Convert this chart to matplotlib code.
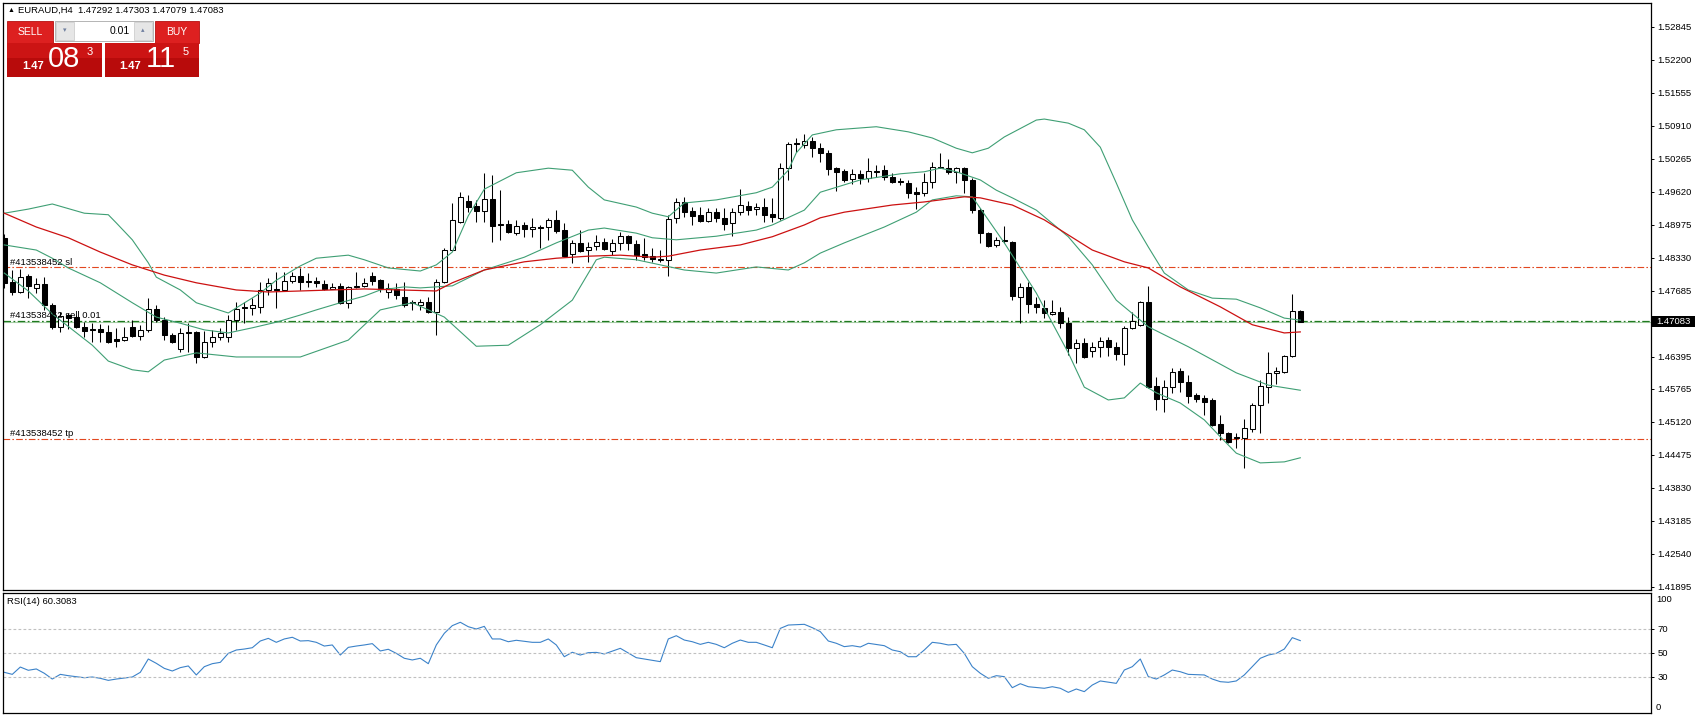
import matplotlib
matplotlib.use("Agg")
import matplotlib.pyplot as plt
from matplotlib.patches import Rectangle
import numpy as np

plt.rcParams['font.family'] = ['Liberation Sans', 'DejaVu Sans']

W, H = 1695, 715

# --- EURAUD H4 candles ---
opens = [1.4872, 1.4786, 1.4766, 1.4797, 1.4774, 1.4782, 1.4741, 1.4698, 1.4721, 1.4717,
         1.4698, 1.4694, 1.4693, 1.4688, 1.4674, 1.4672, 1.4698, 1.4680, 1.4692, 1.4733,
         1.4711, 1.4682, 1.4655, 1.4688, 1.4688, 1.4639, 1.4668, 1.4678, 1.4678, 1.4711,
         1.4736, 1.4735, 1.4737, 1.4770, 1.4771, 1.4770, 1.4788, 1.4797, 1.4787, 1.4788,
         1.4782, 1.4772, 1.4778, 1.4745, 1.4775, 1.4778, 1.4797, 1.4789, 1.4766, 1.4772,
         1.4756, 1.4746, 1.4741, 1.4747, 1.4727, 1.4786, 1.4848, 1.4903, 1.4944, 1.4934,
         1.4924, 1.4948, 1.4898, 1.4899, 1.4881, 1.4897, 1.4889, 1.4894, 1.4893, 1.4907,
         1.4887, 1.4840, 1.4862, 1.4848, 1.4856, 1.4864, 1.4846, 1.4862, 1.4875, 1.4860,
         1.4840, 1.4836, 1.4829, 1.4829, 1.4911, 1.4942, 1.4924, 1.4916, 1.4905, 1.4922,
         1.4911, 1.4901, 1.4922, 1.4934, 1.4928, 1.4932, 1.4918, 1.4911, 1.5008, 1.5058,
         1.5053, 1.5061, 1.5047, 1.5038, 1.5008, 1.5002, 1.4987, 1.4997, 1.4989, 1.5003,
         1.5004, 1.4991, 1.4982, 1.4979, 1.4961, 1.4959, 1.4981, 1.5009, 1.5008, 1.5000,
         1.5008, 1.4985, 1.4926, 1.4881, 1.4858, 1.4867, 1.4864, 1.4756, 1.4776, 1.4743,
         1.4735, 1.4723, 1.4727, 1.4705, 1.4657, 1.4666, 1.4651, 1.4659, 1.4672, 1.4659,
         1.4645, 1.4696, 1.4702, 1.4747, 1.4582, 1.4557, 1.4580, 1.4612, 1.4590, 1.4565,
         1.4559, 1.4555, 1.4508, 1.4490, 1.4482, 1.4481, 1.4498, 1.4545, 1.4580, 1.4608,
         1.4610, 1.4641, 1.47292]
highs = [1.4879, 1.4809, 1.4811, 1.4801, 1.4793, 1.4795, 1.4745, 1.4727, 1.4725, 1.4721,
         1.4707, 1.4705, 1.4703, 1.4702, 1.4696, 1.4698, 1.4711, 1.4702, 1.4754, 1.4741,
         1.4717, 1.4686, 1.4696, 1.4705, 1.4690, 1.4690, 1.4692, 1.4696, 1.4721, 1.4747,
         1.4747, 1.4754, 1.4786, 1.4793, 1.4805, 1.4805, 1.4805, 1.4813, 1.4803, 1.4795,
         1.4789, 1.4784, 1.4784, 1.4778, 1.4805, 1.4793, 1.4805, 1.4791, 1.4784, 1.4784,
         1.4786, 1.4750, 1.4752, 1.4756, 1.4791, 1.4852, 1.4940, 1.4961, 1.4956, 1.4946,
         1.4998, 1.4995, 1.4965, 1.4907, 1.4907, 1.4903, 1.4911, 1.4897, 1.4911, 1.4926,
         1.4901, 1.4868, 1.4887, 1.4864, 1.4877, 1.4871, 1.4869, 1.4883, 1.4877, 1.4868,
         1.4871, 1.4852, 1.4848, 1.4916, 1.4950, 1.4952, 1.4932, 1.4932, 1.4930, 1.4930,
         1.4930, 1.4930, 1.4967, 1.4944, 1.4940, 1.4950, 1.4950, 1.5018, 1.5059, 1.5067,
         1.5075, 1.5069, 1.5057, 1.5044, 1.5010, 1.5006, 1.5006, 1.5004, 1.5028, 1.5014,
         1.5014, 1.4998, 1.4989, 1.4985, 1.4971, 1.4998, 1.5020, 1.5038, 1.5026, 1.5010,
         1.5010, 1.4989, 1.4930, 1.4883, 1.4873, 1.4895, 1.4866, 1.4784, 1.4786, 1.4756,
         1.4750, 1.4750, 1.4737, 1.4717, 1.4674, 1.4676, 1.4668, 1.4678, 1.4678, 1.4668,
         1.4700, 1.4727, 1.4749, 1.4778, 1.4600, 1.4594, 1.4617, 1.4617, 1.4604, 1.4569,
         1.4565, 1.4559, 1.4526, 1.4492, 1.4490, 1.4518, 1.4549, 1.4594, 1.4649, 1.4619,
         1.4643, 1.4762, 1.47303]
lows = [1.4774, 1.4760, 1.4764, 1.4754, 1.4764, 1.4731, 1.4694, 1.4688, 1.4694, 1.4696,
        1.4678, 1.4668, 1.4668, 1.4666, 1.4659, 1.4671, 1.4678, 1.4672, 1.4688, 1.4707,
        1.4672, 1.4666, 1.4649, 1.4649, 1.4627, 1.4637, 1.4659, 1.4672, 1.4668, 1.4692,
        1.4705, 1.4721, 1.4725, 1.4760, 1.4735, 1.4769, 1.4784, 1.4770, 1.4776, 1.4776,
        1.4770, 1.4771, 1.4743, 1.4735, 1.4774, 1.4776, 1.4780, 1.4766, 1.4754, 1.4752,
        1.4737, 1.4731, 1.4731, 1.4725, 1.4682, 1.4784, 1.4847, 1.4901, 1.4922, 1.4903,
        1.4903, 1.4864, 1.4868, 1.4881, 1.4877, 1.4873, 1.4873, 1.4852, 1.4868, 1.4881,
        1.4835, 1.4823, 1.4844, 1.4825, 1.4848, 1.4848, 1.4838, 1.4848, 1.4848, 1.4829,
        1.4829, 1.4825, 1.4825, 1.4797, 1.4901, 1.4913, 1.4897, 1.4903, 1.4903, 1.4903,
        1.4887, 1.4875, 1.4916, 1.4916, 1.4916, 1.4903, 1.4903, 1.4907, 1.4985, 1.5040,
        1.5047, 1.5030, 1.5020, 1.4995, 1.4963, 1.4981, 1.4977, 1.4977, 1.4981, 1.4991,
        1.4985, 1.4979, 1.4975, 1.4950, 1.4928, 1.4954, 1.4969, 1.5008, 1.4997, 1.4979,
        1.4959, 1.4920, 1.4862, 1.4854, 1.4854, 1.4862, 1.4750, 1.4705, 1.4725, 1.4725,
        1.4715, 1.4722, 1.4696, 1.4643, 1.4627, 1.4637, 1.4639, 1.4639, 1.4641, 1.4633,
        1.4623, 1.4694, 1.4700, 1.4579, 1.4535, 1.4532, 1.4569, 1.4571, 1.4549, 1.4551,
        1.4526, 1.4504, 1.4477, 1.4471, 1.4461, 1.4422, 1.4492, 1.4490, 1.4549, 1.4586,
        1.4608, 1.4639, 1.47079]
closes = [1.4784, 1.4766, 1.4795, 1.4778, 1.4782, 1.4741, 1.4698, 1.4719, 1.4715, 1.4698,
          1.4690, 1.4692, 1.4688, 1.4668, 1.4671, 1.4678, 1.4680, 1.4692, 1.4733, 1.4711,
          1.4682, 1.4668, 1.4686, 1.4685, 1.4639, 1.4668, 1.4678, 1.4686, 1.4711, 1.4733,
          1.4734, 1.4740, 1.4770, 1.4784, 1.4769, 1.4788, 1.4797, 1.4786, 1.4785, 1.4784,
          1.4772, 1.4776, 1.4745, 1.4776, 1.4777, 1.4784, 1.4788, 1.4774, 1.4774, 1.4760,
          1.4741, 1.4744, 1.4747, 1.4727, 1.4786, 1.4848, 1.4907, 1.4952, 1.4932, 1.4924,
          1.4948, 1.4895, 1.4896, 1.4883, 1.4895, 1.4889, 1.4893, 1.4892, 1.4907, 1.4885,
          1.4836, 1.4862, 1.4846, 1.4854, 1.4864, 1.4850, 1.4862, 1.4875, 1.4862, 1.4838,
          1.4834, 1.4830, 1.4831, 1.4909, 1.4942, 1.4922, 1.4915, 1.4905, 1.4922, 1.4911,
          1.4899, 1.4922, 1.4936, 1.4926, 1.4932, 1.4916, 1.4913, 1.5008, 1.5055, 1.5056,
          1.5061, 1.5047, 1.5038, 1.5006, 1.5000, 1.4985, 1.4997, 1.4989, 1.5002, 1.5001,
          1.4991, 1.4981, 1.4980, 1.4959, 1.4958, 1.4981, 1.5010, 1.5011, 1.5000, 1.5008,
          1.4985, 1.4926, 1.4881, 1.4856, 1.4868, 1.4865, 1.4758, 1.4776, 1.4743, 1.4737,
          1.4725, 1.4727, 1.4705, 1.4657, 1.4666, 1.4639, 1.4659, 1.4670, 1.4659, 1.4645,
          1.4696, 1.4709, 1.4747, 1.4580, 1.4557, 1.4580, 1.4610, 1.4590, 1.4563, 1.4557,
          1.4551, 1.4506, 1.4490, 1.4473, 1.4480, 1.4500, 1.4545, 1.4582, 1.4608, 1.4612,
          1.4641, 1.47292, 1.47083]

# Bollinger bands (20) and moving average, read at bar indices
bb_upper_idx = [0, 3, 6, 10, 13, 14, 16, 18, 19, 22, 24, 28, 29, 32, 34, 37, 39, 43, 45, 48,
                52, 54, 56, 58, 60, 64, 68, 71, 73, 75, 79, 81, 83, 85, 89, 94, 96, 98, 99, 101,
                104, 109, 113, 116, 119, 121, 123, 125, 129, 130, 133, 135, 137, 139, 141, 143,
                145, 148, 151, 154, 157, 160, 162]
bb_upper = [1.4920, 1.4928, 1.4938, 1.4920, 1.4917, 1.4901, 1.4868, 1.4823, 1.4795, 1.4770,
            1.4745, 1.4725, 1.4735, 1.4764, 1.4789, 1.4817, 1.4832, 1.4838, 1.4829, 1.4813,
            1.4807, 1.4819, 1.4844, 1.4915, 1.4967, 1.4999, 1.5008, 1.5004, 1.4971, 1.4946,
            1.4932, 1.4920, 1.4913, 1.4940, 1.4946, 1.4960, 1.4971, 1.5004, 1.5038, 1.5073,
            1.5083, 1.5089, 1.5079, 1.5067, 1.5047, 1.5038, 1.5047, 1.5069, 1.5102, 1.5104,
            1.5096, 1.5083, 1.5049, 1.4979, 1.4907, 1.4854, 1.4803, 1.4770, 1.4754, 1.4752,
            1.4735, 1.4715, 1.4711]
bb_mid_idx = [0, 4, 6, 8, 12, 16, 19, 22, 25, 28, 31, 34, 37, 39, 42, 45, 47, 50, 52, 56,
              60, 65, 69, 73, 75, 79, 81, 84, 89, 94, 96, 100, 102, 107, 112, 115, 117, 119,
              122, 124, 126, 129, 133, 136, 139, 143, 148, 154, 158, 162]
bb_mid = [1.4858, 1.4848, 1.4832, 1.4813, 1.4784, 1.4745, 1.4717, 1.4705, 1.4692, 1.4686,
          1.4696, 1.4707, 1.4721, 1.4731, 1.4745, 1.4758, 1.4770, 1.4776, 1.4774, 1.4778,
          1.4809, 1.4834, 1.4862, 1.4887, 1.4891, 1.4881, 1.4872, 1.4868, 1.4875, 1.4887,
          1.4897, 1.4926, 1.4961, 1.4985, 1.4997, 1.5001, 1.5008, 1.5001, 1.4985, 1.4965,
          1.4950, 1.4926, 1.4874, 1.4819, 1.4750, 1.4698, 1.4659, 1.4608, 1.4584, 1.4574]
bb_lower_idx = [0, 3, 6, 11, 13, 16, 18, 20, 24, 29, 37, 43, 47, 51, 55, 59, 63, 67, 71, 74,
                75, 79, 85, 89, 94, 98, 100, 102, 105, 110, 114, 116, 119, 121, 123, 125, 129,
                133, 135, 138, 140, 142, 144, 147, 150, 152, 154, 157, 160, 162]
bb_lower = [1.4803, 1.4768, 1.4723, 1.4662, 1.4631, 1.4614, 1.4610, 1.4633, 1.4647, 1.4639,
            1.4639, 1.4672, 1.4731, 1.4745, 1.4717, 1.4660, 1.4662, 1.4702, 1.4750, 1.4829,
            1.4834, 1.4829, 1.4809, 1.4803, 1.4815, 1.4809, 1.4823, 1.4842, 1.4862, 1.4893,
            1.4922, 1.4946, 1.4954, 1.4952, 1.4907, 1.4862, 1.4764, 1.4647, 1.4580, 1.4555,
            1.4559, 1.4588, 1.4569, 1.4549, 1.4516, 1.4483, 1.4451, 1.4432, 1.4434, 1.4442]
ma_idx = [0, 4, 8, 12, 16, 20, 24, 29, 33, 37, 45, 54, 56, 60, 65, 69, 73, 77, 81, 83,
          87, 92, 96, 100, 102, 105, 111, 115, 120, 122, 126, 130, 136, 140, 143, 147, 152,
          156, 160, 162]
ma_vals = [1.4920, 1.4893, 1.4872, 1.4844, 1.4819, 1.4799, 1.4784, 1.4770, 1.4766, 1.4768,
           1.4772, 1.4768, 1.4784, 1.4809, 1.4825, 1.4832, 1.4836, 1.4838, 1.4834, 1.4836,
           1.4848, 1.4858, 1.4874, 1.4897, 1.4911, 1.4922, 1.4936, 1.4942, 1.4952, 1.4950,
           1.4936, 1.4907, 1.4848, 1.4825, 1.4813, 1.4776, 1.4737, 1.4702, 1.4686, 1.4688]

# RSI(14)
rsi_idx = [0, 1, 2, 3, 4, 5, 6, 7, 8, 10, 11, 12, 13, 14, 16, 17, 18, 19, 20, 21,
           22, 23, 24, 25, 26, 27, 28, 29, 30, 31, 32, 33, 34, 35, 36, 37, 38, 39, 40, 41,
           42, 43, 44, 45, 46, 47, 48, 49, 50, 51, 52, 53, 54, 55, 56, 57, 58, 59, 60, 61,
           62, 63, 64, 66, 67, 68, 69, 70, 71, 72, 73, 74, 75, 77, 79, 80, 82, 83, 84, 85,
           86, 87, 88, 89, 90, 91, 92, 93, 94, 95, 96, 97, 98, 99, 100, 101, 102, 103, 104, 105,
           106, 107, 108, 110, 111, 112, 113, 114, 115, 116, 117, 118, 119, 120, 121, 122, 123, 124, 125, 126,
           127, 128, 130, 131, 132, 133, 134, 135, 136, 137, 139, 140, 141, 142, 143, 144, 145, 146, 147, 148,
           150, 151, 152, 153, 154, 155, 156, 157, 158, 159, 160, 161, 162]
rsi_vals = [33.9, 32.2, 38.3, 35.6, 36.7, 33.1, 28.3, 32.2, 31.1, 29.4, 30.0, 28.9, 27.2, 28.3, 30.0, 33.9, 45.0, 41.4, 37.2, 35.0,
            37.8, 39.2, 31.7, 38.6, 41.1, 42.2, 49.7, 52.5, 53.3, 54.4, 60.0, 62.2, 58.9, 61.7, 63.1, 60.0, 60.3, 58.9, 55.8, 56.7,
            48.3, 54.7, 55.8, 56.7, 57.8, 51.7, 53.1, 49.7, 45.6, 44.2, 45.6, 41.1, 56.7, 66.4, 72.8, 75.6, 71.9, 70.0, 72.2, 61.7,
            61.7, 59.4, 60.6, 58.9, 58.9, 61.7, 56.7, 46.9, 50.6, 48.3, 50.3, 50.5, 49.2, 53.9, 46.1, 45.0, 42.8, 61.7, 64.4, 60.8,
            59.4, 57.2, 58.9, 57.2, 54.4, 58.1, 60.8, 58.9, 58.9, 56.7, 54.4, 70.5, 73.3, 73.6, 73.9, 71.1, 67.8, 60.0, 58.1, 55.3,
            56.1, 55.0, 58.1, 56.1, 52.5, 51.1, 46.9, 46.9, 52.5, 58.9, 58.1, 56.7, 57.2, 49.7, 38.6, 33.1, 28.9, 31.1, 30.3, 21.1,
            24.4, 21.9, 20.6, 21.9, 20.6, 17.2, 20.0, 17.8, 23.3, 26.7, 24.7, 35.8, 38.6, 45.0, 30.3, 28.3, 31.7, 35.8, 34.4, 32.2,
            31.7, 28.3, 26.1, 25.6, 26.7, 31.7, 38.6, 45.6, 48.3, 49.7, 53.3, 62.8, 60.3083]

price_ticks = [1.52845, 1.52200, 1.51555, 1.50910, 1.50265, 1.49620, 1.48975, 1.48330,
               1.47685, 1.46395, 1.45765, 1.45120, 1.44475, 1.43830, 1.43185, 1.42540, 1.41895]
price_labels = ["%.5f" % p for p in price_ticks]
rsi_levels = [30, 50, 70]

bid = 1.47083
sl_price = 1.4814
tp_price = 1.4479
order_price = 1.4710
ticket = "#413538452"

BB_COLOR = "#3f9f74"
MA_COLOR = "#cc1111"
RSI_COLOR = "#3b82c9"
LINE_RED = "#e2471f"
LINE_GREEN = "#1f7a1f"

fig = plt.figure(figsize=(W / 100, H / 100), dpi=100)
fig.patch.set_facecolor("white")


def px_axes(x0, y0, x1, y1):
    return fig.add_axes([x0 / W, 1 - y1 / H, (x1 - x0) / W, (y1 - y0) / H])


def fig_rect(x0, y0, x1, y1, **kw):
    fig.patches.append(Rectangle((x0 / W, 1 - y1 / H), (x1 - x0) / W, (y1 - y0) / H,
                                 transform=fig.transFigure, **kw))


def fig_text(x, y, s, **kw):
    kw.setdefault("fontsize", 6.8)
    kw.setdefault("va", "center")
    fig.text(x / W, 1 - y / H, s, **kw)


ax = px_axes(3, 3, 1651, 590)
ax_rsi = px_axes(3, 593, 1651, 713)
xlim = ((3 - 4.3) / 8, (1651 - 4.3) / 8)

# --- candles ---
o = np.array(opens)
h = np.array(highs)
l = np.array(lows)
c = np.array(closes)
x = np.arange(len(o))
up = c >= o
ax.vlines(x, l, h, color="black", lw=0.75, zorder=2)
body_h = np.maximum(np.abs(c - o), 0.00008)
ax.bar(x, body_h, bottom=np.minimum(o, c), width=0.62,
       color=np.where(up, "white", "black"), edgecolor="black", linewidth=0.75, zorder=3)

# --- indicators ---
ax.plot(bb_upper_idx, bb_upper, color=BB_COLOR, lw=0.8, zorder=4)
ax.plot(bb_mid_idx, bb_mid, color=BB_COLOR, lw=0.8, zorder=4)
ax.plot(bb_lower_idx, bb_lower, color=BB_COLOR, lw=0.8, zorder=4)
ax.plot(ma_idx, ma_vals, color=MA_COLOR, lw=0.9, zorder=4)

# --- order lines ---
ax.axhline(sl_price, color=LINE_RED, lw=0.8, dashes=(6, 2, 1.4, 2), zorder=1)
ax.axhline(tp_price, color=LINE_RED, lw=0.8, dashes=(6, 2, 1.4, 2), zorder=1)
ax.axhline(bid, color="#a9cfa9", lw=0.8, zorder=1)
ax.axhline(order_price, color=LINE_GREEN, lw=0.9, dashes=(6, 2, 1.4, 2), zorder=1)

ax.set_xlim(*xlim)
ax.set_ylim(1.41836, 1.53308)
ax.set_xticks([])
ax.yaxis.tick_right()
ax.set_yticks(price_ticks)
ax.set_yticklabels(price_labels)
ax.tick_params(axis="y", direction="out", length=2.5, width=0.7, pad=2, labelsize=6.8)
for s in ax.spines.values():
    s.set_linewidth(0.9)

# --- RSI panel ---
ax_rsi.plot(rsi_idx, rsi_vals, color=RSI_COLOR, lw=0.8)
for lvl in rsi_levels:
    ax_rsi.axhline(lvl, color="#c0c0c0", lw=0.8, dashes=(2.5, 2))
ax_rsi.set_xlim(*xlim)
ax_rsi.set_ylim(0, 100)
ax_rsi.set_xticks([])
ax_rsi.yaxis.tick_right()
ax_rsi.set_yticks(rsi_levels)
ax_rsi.set_yticklabels([str(v) for v in rsi_levels])
ax_rsi.tick_params(axis="y", direction="out", length=2.5, width=0.7, pad=2, labelsize=6.8)
for s in ax_rsi.spines.values():
    s.set_linewidth(0.9)
fig_text(1656, 599, "100")
fig_text(1656, 707, "0")
fig_text(7, 601, "RSI(14) 60.3083")

# --- current price tag ---
fig_rect(1652, 316, 1695, 327, facecolor="black", edgecolor="none")
fig_text(1656, 321.5, "%.5f" % bid, color="white")

# --- labels on the chart ---
fig_text(8, 10, "\u25b2", fontsize=5)
fig_text(18, 10, "EURAUD,H4  1.47292 1.47303 1.47079 1.47083")
fig_text(10, 262, ticket + " sl")
fig_text(10, 315, ticket + " sell 0.01")
fig_text(10, 433, ticket + " tp")

# --- one-click trading panel ---
fig_rect(7, 21, 53, 43, facecolor="#dd2020", edgecolor="#b51010", lw=0.6)
fig_rect(155, 21, 199, 43, facecolor="#dd2020", edgecolor="#b51010", lw=0.6)
fig_text(30, 32, "SELL", color="white", ha="center", fontsize=7.5)
fig_text(177, 32, "BUY", color="white", ha="center", fontsize=7.5)
fig_rect(55, 21, 153, 41, facecolor="white", edgecolor="#a8a8a8", lw=0.6)
fig_rect(56, 22, 74, 40, facecolor="#e6e6e6", edgecolor="#c8c8c8", lw=0.5)
fig_rect(134, 22, 152, 40, facecolor="#e6e6e6", edgecolor="#c8c8c8", lw=0.5)
fig_text(65, 31, "\u25be", color="#7080a0", ha="center", fontsize=5)
fig_text(143, 31, "\u25b4", color="#7080a0", ha="center", fontsize=5)
fig_text(130, 31, "0.01", ha="right", fontsize=7.5)
for x0, x1 in ((7, 102), (105, 199)):
    fig_rect(x0, 43, x1, 77, facecolor="#b80b0b", edgecolor="none")
    fig_rect(x0, 43, x1, 58, facecolor="#cc1414", edgecolor="none")
fig_text(22, 66, "1.47", color="white", fontsize=8, weight="bold")
fig_text(48, 59, "08", color="white", fontsize=21)
fig_text(87, 52, "3", color="white", fontsize=8)
fig_text(119, 66, "1.47", color="white", fontsize=8, weight="bold")
fig_text(146, 59, "11", color="white", fontsize=21)
fig_text(183, 52, "5", color="white", fontsize=8)

fig.savefig("out.png", dpi=100, facecolor="white")
